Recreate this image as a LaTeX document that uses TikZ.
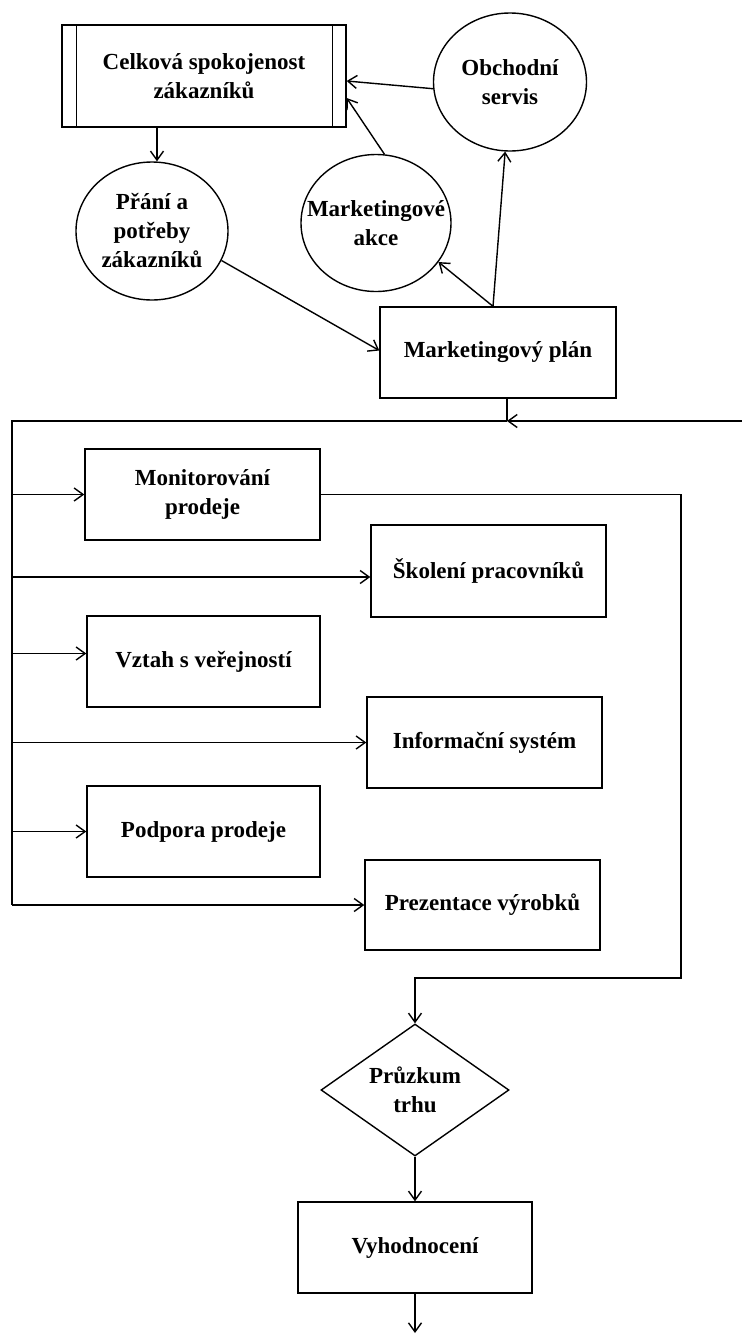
\documentclass[tikz,border=0pt]{standalone}
\usepackage{fontspec}
\setmainfont{Liberation Serif}
\usetikzlibrary{arrows.meta,shapes.geometric,calc}

\begin{document}
\begin{tikzpicture}[x=1pt,y=-1pt,line width=1.4pt,
  every node/.style={font=\fontsize{23}{29}\selectfont\bfseries, align=center, inner sep=0pt},
  box/.style={draw, line width=1.4pt, minimum width=235pt, minimum height=91pt},
  oval/.style={draw, ellipse, line width=1.4pt, minimum width=152pt, minimum height=138pt},
  arr/.style={-{Straight Barb[length=9pt,width=13pt]}}]

\useasboundingbox (0,0) rectangle (742,1334);

% upper part
\node[box, minimum width=284pt, minimum height=102pt] (cs) at (204,76) {Celková spokojenost\\zákazníků};
\node[oval] (pp) at (152,231) {Přání a\\potřeby\\zákazníků};
\node[oval, minimum width=150pt, minimum height=137pt, inner xsep=-20pt] (ma) at (376,223) {Marketingové\\akce};
\node[oval, minimum width=153pt] (os) at (510,82) {Obchodní\\servis};
\node[box, minimum width=236pt] (mp) at (498,352.5) {Marketingový plán};

% activities
\node[box] (mon) at (202.5,494.5) {Monitorování\\prodeje};
\node[box, minimum height=92pt] (sko) at (488.5,571) {Školení pracovníků};
\node[box, minimum width=233pt] (vz) at (203.5,661.5) {Vztah s veřejností};
\node[box] (inf) at (484.5,742.5) {Informační systém};
\node[box, minimum width=233pt] (pod) at (203.5,831.5) {Podpora prodeje};
\node[box, minimum height=90pt] (pre) at (482.5,905) {Prezentace výrobků};

% lower part
\node[draw, diamond, aspect=1.42, minimum width=188pt, minimum height=132pt] (pz) at (415,1090) {Průzkum\\trhu};
\node[box, minimum width=234pt] (vh) at (415,1247.5) {Vyhodnocení};

% side bars of the top box
\draw ([xshift=15pt]cs.north west) -- ([xshift=15pt]cs.south west);
\draw ([xshift=-14pt]cs.north east) -- ([xshift=-14pt]cs.south east);

% helper points
\coordinate (J) at (507,421);
\coordinate (R) at (742,421);
\coordinate (busTop) at (12,421);
\coordinate (busBot) at (12,905);
\coordinate (loopR) at (681,978);
\coordinate (out) at (415,1333);
\coordinate (mptop) at ([xshift=-5pt]mp.north);
\coordinate (skoIn) at ([yshift=-6pt]sko.west);
\coordinate (vzIn) at ([yshift=8pt]vz.west);

% connectors, top
\draw[arr] ([xshift=5pt]cs.south -| pp.north) -- ([xshift=5pt]pp.north);
\draw[arr] (os.185) -- ([yshift=-5pt]cs.east);
\draw[arr] (ma.83) -- ([yshift=-22pt]cs.east);
\draw[arr] (mptop) -- (ma.-32);
\draw[arr] (mptop) -- (os.-94);
\draw[arr] (pp.-23) -- ([yshift=2pt]mp.west);

% distribution bus
\draw (mp.south -| J) -- (J);
\draw[arr] (R) -- (J);
\draw (J) -- (busTop) -- (busBot);
\draw[arr] (mon.west -| busTop) -- (mon.west);
\draw[arr] (skoIn -| busTop) -- (skoIn);
\draw[arr] (vzIn -| busTop) -- (vzIn);
\draw[arr] (inf.west -| busTop) -- (inf.west);
\draw[arr] (pod.west -| busTop) -- (pod.west);
\draw[arr] (busBot) -- (pre.west);

% evaluation chain
\draw[arr] (mon.east) -| (loopR) -| (pz.north);
\draw[arr] (pz.south) -- (vh.north);
\draw[arr] (vh.south) -- (out);
\end{tikzpicture}
\end{document}
